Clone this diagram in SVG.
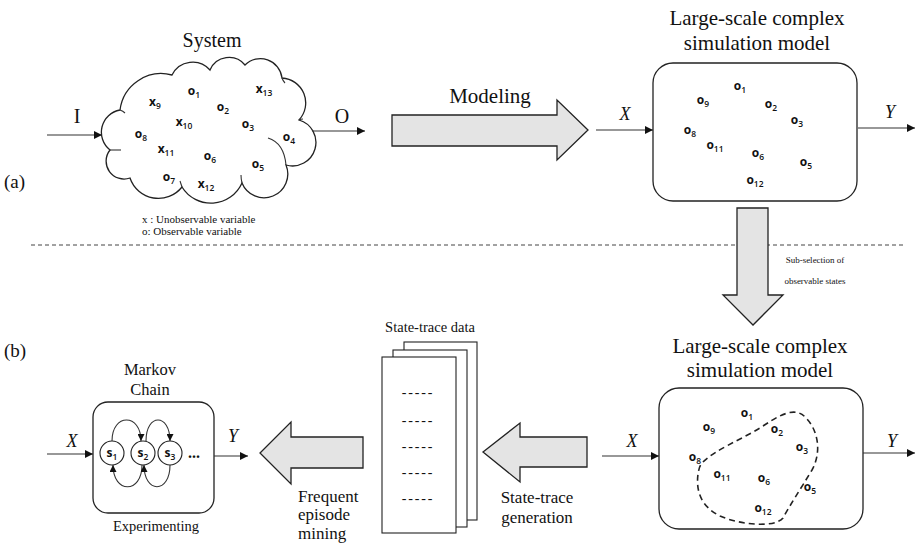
<svg xmlns="http://www.w3.org/2000/svg" width="916" height="545" viewBox="0 0 916 545">
  <style>
    .serif { font-family: "Liberation Serif", "Times New Roman", serif; fill: #111; }
    .ital { font-family: "Liberation Serif", "Times New Roman", serif; font-style: italic; fill: #111; }
    .var { font-family: "Open Sans", "Liberation Sans", sans-serif; font-weight: 700; font-size: 12px; fill: #111; }
    .sub { font-size: 8.5px; font-weight: 600; }
    .box { fill: #fff; stroke: #222; stroke-width: 1.3; }
    .big { fill: #e4e4e4; stroke: #222; stroke-width: 1.3; stroke-linejoin: miter; }
    .thin { fill: none; stroke: #333; stroke-width: 1.1; }
    .page { fill: #fff; stroke: #222; stroke-width: 1.1; }
  </style>
  <defs>
    <marker id="tip" viewBox="0 0 10 10" refX="10" refY="5" markerWidth="8" markerHeight="8" markerUnits="userSpaceOnUse" orient="auto">
      <path d="M0,0 L10,5 L0,10 Z" fill="#111"/>
    </marker>
    <marker id="tipS" viewBox="0 0 10 10" refX="10" refY="5" markerWidth="7" markerHeight="7" markerUnits="userSpaceOnUse" orient="auto">
      <path d="M0,0 L10,5 L0,10 Z" fill="#111"/>
    </marker>
  </defs>

  <!-- panel labels and separator -->
  <text class="serif" x="4" y="188" font-size="19">(a)</text>
  <text class="serif" x="4" y="357" font-size="19">(b)</text>
  <line x1="31" y1="245" x2="906" y2="245" stroke="#444" stroke-width="1" stroke-dasharray="4 3"/>

  <!-- real system -->
  <g id="system">
    <text class="serif" x="212" y="47" font-size="20" text-anchor="middle">System</text>
    <path class="box" d="M120,110 A41.6,41.6 0 0 1 172,75 A23,23 0 0 1 210,70 A20.7,20.7 0 0 1 245,65 A21.8,21.8 0 0 1 282,78 A25,25 0 0 1 299,120 A23,23 0 0 1 286,165 A23,23 0 0 1 242,183 A34,34 0 0 1 182,187 A30,30 0 0 1 130,178 A17.9,17.9 0 0 1 110,150 A22.6,22.6 0 0 1 120,110 Z"/>
    <!-- overlapping bump edges inside the outline -->
    <g class="thin" stroke="#222">
      <path d="M268,138 Q284,143 286,165"/>
      <path d="M120,110 Q123,111 125,113"/>
      <path d="M110,150 L121,150"/>
      <path d="M242,183 Q241,179 241,175"/>
      <path d="M182,187 Q181,184 180,181"/>
      <path d="M282,78 Q283,81 285,83"/>
      <path d="M299,120 Q301,119 303,119"/>
    </g>
    <text class="var" x="194" y="95" text-anchor="middle">o<tspan class="sub" dy="3">1</tspan></text>
    <text class="var" x="264" y="93" text-anchor="middle">x<tspan class="sub" dy="3">13</tspan></text>
    <text class="var" x="155" y="106" text-anchor="middle">x<tspan class="sub" dy="3">9</tspan></text>
    <text class="var" x="223" y="111" text-anchor="middle">o<tspan class="sub" dy="3">2</tspan></text>
    <text class="var" x="184" y="126" text-anchor="middle">x<tspan class="sub" dy="3">10</tspan></text>
    <text class="var" x="248" y="128" text-anchor="middle">o<tspan class="sub" dy="3">3</tspan></text>
    <text class="var" x="141" y="138" text-anchor="middle">o<tspan class="sub" dy="3">8</tspan></text>
    <text class="var" x="289" y="141" text-anchor="middle">o<tspan class="sub" dy="3">4</tspan></text>
    <text class="var" x="166" y="153" text-anchor="middle">x<tspan class="sub" dy="3">11</tspan></text>
    <text class="var" x="210" y="160" text-anchor="middle">o<tspan class="sub" dy="3">6</tspan></text>
    <text class="var" x="258" y="168" text-anchor="middle">o<tspan class="sub" dy="3">5</tspan></text>
    <text class="var" x="169" y="181" text-anchor="middle">o<tspan class="sub" dy="3">7</tspan></text>
    <text class="var" x="206" y="188" text-anchor="middle">x<tspan class="sub" dy="3">12</tspan></text>
    <text class="serif" x="142" y="223" font-size="11">x : Unobservable variable</text>
    <text class="serif" x="142" y="235" font-size="11">o: Observable variable</text>
  </g>

  <!-- full simulation model -->
  <g id="model-full">
    <text class="serif" x="757" y="25" font-size="21" text-anchor="middle">Large-scale complex</text>
    <text class="serif" x="757" y="50" font-size="21" text-anchor="middle">simulation model</text>
    <rect class="box" x="653" y="63" width="204" height="138" rx="20"/>
    <text class="var" x="740" y="90" text-anchor="middle">o<tspan class="sub" dy="3">1</tspan></text>
    <text class="var" x="703" y="104" text-anchor="middle">o<tspan class="sub" dy="3">9</tspan></text>
    <text class="var" x="771" y="108" text-anchor="middle">o<tspan class="sub" dy="3">2</tspan></text>
    <text class="var" x="797" y="124" text-anchor="middle">o<tspan class="sub" dy="3">3</tspan></text>
    <text class="var" x="690" y="134" text-anchor="middle">o<tspan class="sub" dy="3">8</tspan></text>
    <text class="var" x="715" y="149" text-anchor="middle">o<tspan class="sub" dy="3">11</tspan></text>
    <text class="var" x="758" y="157" text-anchor="middle">o<tspan class="sub" dy="3">6</tspan></text>
    <text class="var" x="806" y="166" text-anchor="middle">o<tspan class="sub" dy="3">5</tspan></text>
    <text class="var" x="755" y="184" text-anchor="middle">o<tspan class="sub" dy="3">12</tspan></text>
  </g>

  <!-- reduced simulation model -->
  <g id="model-subset">
    <text class="serif" x="760" y="353" font-size="21" text-anchor="middle">Large-scale complex</text>
    <text class="serif" x="760" y="377" font-size="21" text-anchor="middle">simulation model</text>
    <rect class="box" x="659" y="388" width="204" height="141" rx="20"/>
    <path d="M703,462 C715,450 740,440 760,428 C778,416 795,405 806,418 C818,430 822,452 812,470 C800,490 790,505 783,518 C775,528 740,525 720,516 C700,506 696,490 698,474 C699,468 700,465 703,462 Z" fill="none" stroke="#222" stroke-width="1.6" stroke-dasharray="6 4"/>
    <text class="var" x="747" y="417" text-anchor="middle">o<tspan class="sub" dy="3">1</tspan></text>
    <text class="var" x="709" y="431" text-anchor="middle">o<tspan class="sub" dy="3">9</tspan></text>
    <text class="var" x="777" y="433" text-anchor="middle">o<tspan class="sub" dy="3">2</tspan></text>
    <text class="var" x="802" y="451" text-anchor="middle">o<tspan class="sub" dy="3">3</tspan></text>
    <text class="var" x="695" y="461" text-anchor="middle">o<tspan class="sub" dy="3">8</tspan></text>
    <text class="var" x="722" y="478" text-anchor="middle">o<tspan class="sub" dy="3">11</tspan></text>
    <text class="var" x="764" y="482" text-anchor="middle">o<tspan class="sub" dy="3">6</tspan></text>
    <text class="var" x="810" y="491" text-anchor="middle">o<tspan class="sub" dy="3">5</tspan></text>
    <text class="var" x="763" y="512" text-anchor="middle">o<tspan class="sub" dy="3">12</tspan></text>
  </g>

  <!-- state-trace data stack -->
  <g id="state-trace-data">
    <text class="serif" x="430" y="332" font-size="14.5" text-anchor="middle">State-trace data</text>
    <rect class="page" x="404" y="342" width="73" height="178"/>
    <rect class="page" x="393" y="350" width="74" height="177"/>
    <rect class="page" x="382" y="357" width="74" height="176"/>
    <g class="serif" font-size="14" text-anchor="middle" letter-spacing="1.8">
      <text x="418" y="397">-----</text>
      <text x="418" y="425">-----</text>
      <text x="418" y="451">-----</text>
      <text x="418" y="477">-----</text>
      <text x="418" y="503">-----</text>
    </g>
  </g>

  <!-- Markov chain -->
  <g id="markov-chain">
    <text class="serif" x="150" y="375" font-size="16.5" text-anchor="middle">Markov</text>
    <text class="serif" x="150" y="395" font-size="16.5" text-anchor="middle">Chain</text>
    <rect class="box" x="93" y="402" width="121" height="111" rx="15"/>
    <circle cx="112" cy="453" r="12" fill="#fff" stroke="#222" stroke-width="1.1"/>
    <circle cx="143" cy="453" r="12" fill="#fff" stroke="#222" stroke-width="1.1"/>
    <circle cx="170" cy="453" r="12" fill="#fff" stroke="#222" stroke-width="1.1"/>
    <text class="var" x="112" y="457" font-size="11" text-anchor="middle">s<tspan class="sub" dy="3">1</tspan></text>
    <text class="var" x="143" y="457" font-size="11" text-anchor="middle">s<tspan class="sub" dy="3">2</tspan></text>
    <text class="var" x="170" y="457" font-size="11" text-anchor="middle">s<tspan class="sub" dy="3">3</tspan></text>
    <text class="serif" x="194" y="458" font-size="16" font-weight="bold" text-anchor="middle">...</text>
    <path class="thin" d="M112,441 C112,413 141,413 141,441" marker-end="url(#tipS)"/>
    <path class="thin" d="M146,441 C146,413 170,413 170,441" marker-end="url(#tipS)"/>
    <path class="thin" d="M142,465 C142,494 113,494 113,465" marker-end="url(#tipS)"/>
    <path class="thin" d="M170,465 C170,494 144,494 144,465" marker-end="url(#tipS)"/>
    <text class="serif" x="156" y="531" font-size="14.5" text-anchor="middle">Experimenting</text>
  </g>

  <!-- connectors -->
  <g id="connectors">
    <line class="thin" x1="47" y1="135" x2="102" y2="135" marker-end="url(#tip)"/>
    <text class="serif" x="77" y="123" font-size="20" text-anchor="middle">I</text>
    <line class="thin" x1="312" y1="131" x2="365" y2="131" marker-end="url(#tip)"/>
    <text class="serif" x="342" y="123" font-size="20" text-anchor="middle">O</text>

    <path class="big" d="M392,115 L557,115 L557,100 L588,130 L557,160 L557,146 L392,146 Z"/>
    <text class="serif" x="490" y="103" font-size="21" text-anchor="middle">Modeling</text>

    <line class="thin" x1="596" y1="130" x2="653" y2="130" marker-end="url(#tip)"/>
    <text class="ital" x="625" y="120" font-size="18" text-anchor="middle">X</text>
    <line class="thin" x1="858" y1="128" x2="915" y2="128" marker-end="url(#tip)"/>
    <text class="ital" x="890" y="118" font-size="18" text-anchor="middle">Y</text>

    <path class="big" d="M737,208 L768,208 L768,295 L783,295 L753,325 L723,295 L737,295 Z"/>
    <text class="serif" x="815" y="263" font-size="9" text-anchor="middle">Sub-selection of</text>
    <text class="serif" x="815" y="284" font-size="9" text-anchor="middle">observable states</text>

    <line class="thin" x1="602" y1="456" x2="659" y2="456" marker-end="url(#tip)"/>
    <text class="ital" x="632" y="447" font-size="18" text-anchor="middle">X</text>
    <line class="thin" x1="863" y1="453" x2="915" y2="453" marker-end="url(#tip)"/>
    <text class="ital" x="892" y="447" font-size="18" text-anchor="middle">Y</text>

    <path class="big" d="M587,437 L520,437 L520,423 L483,452 L520,482 L520,467 L587,467 Z"/>
    <text class="serif" x="537" y="503" font-size="17" text-anchor="middle">State-trace</text>
    <text class="serif" x="537" y="523" font-size="17" text-anchor="middle">generation</text>

    <path class="big" d="M363,437 L291,437 L291,422 L260,453 L291,484 L291,468 L363,468 Z"/>
    <text class="serif" x="298" y="502" font-size="17">Frequent</text>
    <text class="serif" x="298" y="520" font-size="17">episode</text>
    <text class="serif" x="298" y="539" font-size="17">mining</text>

    <line class="thin" x1="47" y1="454" x2="93" y2="454" marker-end="url(#tip)"/>
    <text class="ital" x="72" y="447" font-size="18" text-anchor="middle">X</text>
    <line class="thin" x1="214" y1="456" x2="248" y2="456" marker-end="url(#tip)"/>
    <text class="ital" x="233" y="442" font-size="18" text-anchor="middle">Y</text>
  </g>
</svg>
